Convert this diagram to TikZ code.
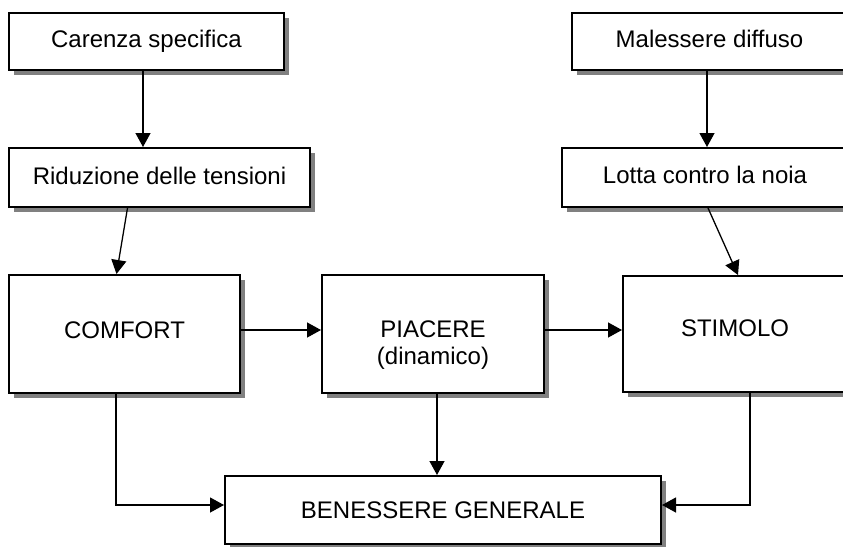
\documentclass[tikz,border=0pt]{standalone}
\usepackage{fontspec}
\setmainfont{Liberation Sans}
\usepackage{tikz}
\usetikzlibrary{arrows.meta,shadows}
\definecolor{OmbraGrigia}{HTML}{808080}
\tikzset{
  blocco/.style={draw=black,line width=2pt,fill=white,inner sep=0pt,anchor=north west,
    align=center,font=\fontsize{24}{27}\selectfont,
    drop shadow={shadow xshift=5pt,shadow yshift=-5pt,fill=OmbraGrigia,opacity=1}},
  freccia/.style={line width=1.3pt,-{Triangle[length=14pt,width=15pt]}}
}

\begin{document}
\begin{tikzpicture}[x=1pt,y=-1pt]
  \path[use as bounding box,clip] (0,0) rectangle (843,546);

  \node[blocco,minimum width=275pt,text height=34pt,text depth=23pt] (carenza) at (8,12) {Carenza specifica};
  \node[blocco,minimum width=301pt,text height=36pt,text depth=23pt] (riduzione) at (8,147) {Riduzione delle tensioni};
  \node[blocco,minimum width=275pt,text height=34pt,text depth=23pt] (malessere) at (571,12) {Malessere diffuso};
  \node[blocco,minimum width=286pt,text height=35pt,text depth=24pt] (lotta) at (561,147) {Lotta contro la noia};

  \node[blocco,minimum width=231pt,text height=63pt,text depth=55pt] (comfort) at (8,274) {COMFORT};
  \node[blocco,minimum width=222pt,text height=89pt,text depth=29pt] (piacere) at (321,274) {PIACERE\\(dinamico)};
  \node[blocco,minimum width=224pt,text height=60pt,text depth=56pt] (stimolo) at (622,275) {STIMOLO};

  \node[blocco,minimum width=436pt,text height=42pt,text depth=26pt] (benessere) at (224,475) {BENESSERE GENERALE};

  \draw[freccia] ([xshift=-3.5pt]carenza.south) -- ([xshift=-3.5pt]carenza.south |- riduzione.north);
  \draw[freccia] ([xshift=-32pt]riduzione.south) -- ([xshift=-8pt]comfort.north);
  \draw[freccia] ([xshift=-2.5pt]malessere.south) -- ([xshift=-2.5pt]malessere.south |- lotta.north);
  \draw[freccia] ([xshift=3pt]lotta.south) -- ([xshift=3pt]stimolo.north);

  \draw[freccia] ([yshift=4pt]comfort.east) -- ([yshift=4pt]comfort.east -| piacere.west);
  \draw[freccia] ([yshift=4pt]piacere.east) -- ([yshift=4pt]piacere.east -| stimolo.west);

  \draw[freccia] ([xshift=-8.5pt]comfort.south) |- ([yshift=5pt]benessere.west);
  \draw[freccia] ([xshift=4pt]piacere.south) -- ([xshift=4pt]piacere.south |- benessere.north);
  \draw[freccia] ([xshift=15pt]stimolo.south) |- ([yshift=5pt]benessere.east);
\end{tikzpicture}
\end{document}
